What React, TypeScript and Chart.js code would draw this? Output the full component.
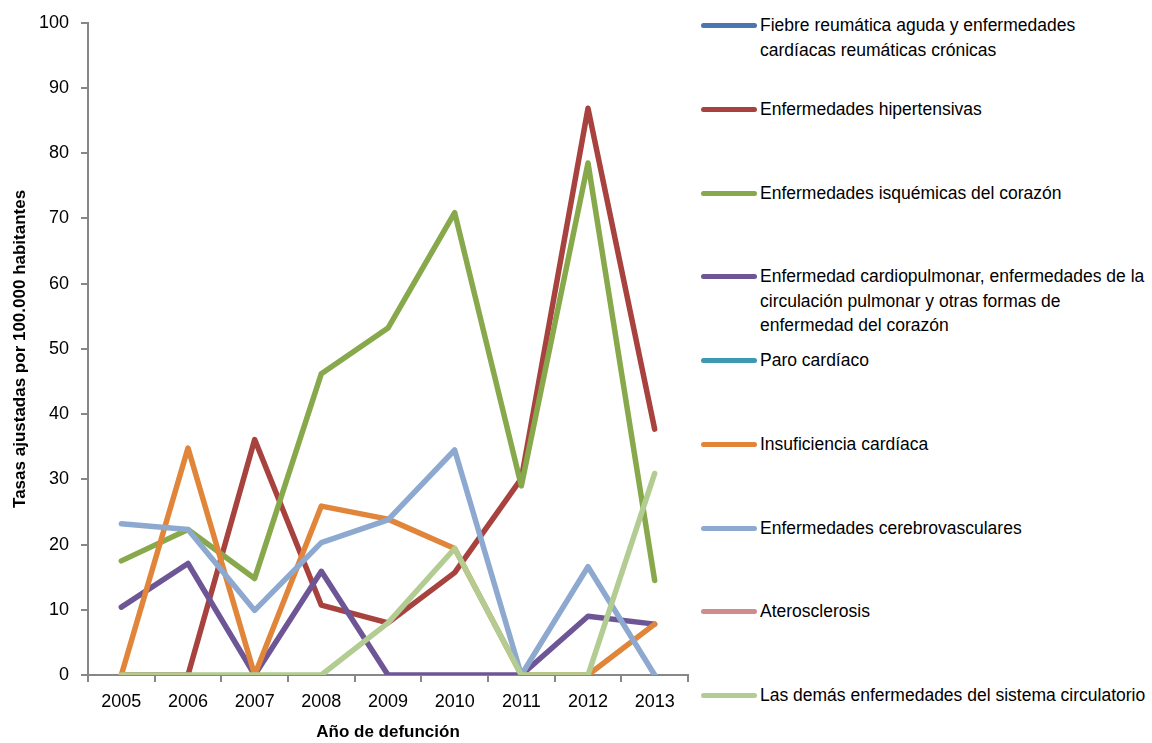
import React, { useEffect, useRef } from "react";
import { Chart, registerables } from "chart.js";

Chart.register(...registerables);

const years = ["2005", "2006", "2007", "2008", "2009", "2010", "2011", "2012", "2013"];

// Series with no visible values in the reference are left empty (null).
const fiebreReumatica = [null, null, null, null, null, null, null, null, null];
const hipertensivas = [0, 0, 36.1, 10.7, 8.0, 15.7, 30.1, 86.9, 37.7];
const isquemicas = [17.5, 22.3, 14.8, 46.2, 53.2, 70.9, 29.0, 78.5, 14.5];
const cardiopulmonar = [10.4, 17.1, 0, 15.9, 0, 0, 0, 9.0, 7.8];
const paroCardiaco = [null, null, null, null, null, null, null, null, null];
const insuficiencia = [0, 34.8, 0, 25.9, 23.9, 19.4, 0, 0, 7.8];
const cerebrovasculares = [23.2, 22.3, 9.9, 20.3, 23.8, 34.5, 0, 16.6, 0];
const aterosclerosis = [null, null, null, null, null, null, null, null, null];
const demas = [0, 0, 0, 0, 8.0, 19.4, 0, 0, 30.9];

const seriesNames = [
  "Fiebre reumática aguda y enfermedades cardíacas reumáticas crónicas",
  "Enfermedades hipertensivas",
  "Enfermedades isquémicas del corazón",
  "Enfermedad cardiopulmonar, enfermedades de la circulación pulmonar y otras formas de enfermedad del corazón",
  "Paro cardíaco",
  "Insuficiencia cardíaca",
  "Enfermedades cerebrovasculares",
  "Aterosclerosis",
  "Las demás enfermedades del sistema circulatorio",
];
const legendLines = [
  ["Fiebre reumática aguda y enfermedades", "cardíacas reumáticas crónicas"],
  ["Enfermedades hipertensivas"],
  ["Enfermedades isquémicas del corazón"],
  [
    "Enfermedad cardiopulmonar, enfermedades de la",
    "circulación pulmonar y otras formas de",
    "enfermedad del corazón",
  ],
  ["Paro cardíaco"],
  ["Insuficiencia cardíaca"],
  ["Enfermedades cerebrovasculares"],
  ["Aterosclerosis"],
  ["Las demás enfermedades del sistema circulatorio"],
];
const seriesValues = [
  fiebreReumatica,
  hipertensivas,
  isquemicas,
  cardiopulmonar,
  paroCardiaco,
  insuficiencia,
  cerebrovasculares,
  aterosclerosis,
  demas,
];
const seriesColors = [
  "#4A77B0",
  "#A8423F",
  "#87A84B",
  "#6E5696",
  "#3F98B1",
  "#E0853A",
  "#8EA9D0",
  "#D08C8C",
  "#B3CC92",
];

const yTitle = "Tasas ajustadas por 100.000 habitantes";
const xTitle = "Año de defunción";

const FONT = "'Liberation Sans', Arial, sans-serif";

export default function App() {
  const canvasRef = useRef<HTMLCanvasElement | null>(null);

  useEffect(() => {
    if (!canvasRef.current) return;
    const n = seriesNames.length;
    const chart = new Chart(canvasRef.current, {
      type: "line",
      data: {
        labels: years,
        datasets: seriesNames.map((name, i) => ({
          label: name,
          data: seriesValues[i],
          borderColor: seriesColors[i],
          backgroundColor: seriesColors[i],
          borderWidth: 5.5,
          pointRadius: 0,
          tension: 0,
          order: n - i,
          borderCapStyle: "round" as const,
          borderJoinStyle: "round" as const,
          fill: false,
        })),
      },
      options: {
        animation: false,
        responsive: false,
        maintainAspectRatio: false,
        layout: { padding: { top: 19, right: 12, left: 6, bottom: 0 } },
        plugins: {
          legend: { display: false },
          tooltip: { enabled: false },
        },
        scales: {
          x: {
            type: "category",
            offset: true,
            grid: {
              offset: true,
              drawOnChartArea: false,
              drawTicks: true,
              tickLength: 7,
              color: "#878787",
              lineWidth: 2,
            },
            border: { color: "#878787", width: 2 },
            ticks: {
              color: "#000",
              font: { family: FONT, size: 18 },
              padding: 9,
              maxRotation: 0,
            },
            title: {
              display: true,
              text: xTitle,
              color: "#000",
              font: { family: FONT, size: 17, weight: "bold" },
              padding: { top: 4, bottom: 0 },
            },
            afterFit: (scale: any) => {
              scale.height = 68;
            },
          },
          y: {
            min: 0,
            max: 100,
            ticks: {
              stepSize: 10,
              color: "#000",
              font: { family: FONT, size: 18 },
              padding: 12,
            },
            grid: {
              drawOnChartArea: false,
              drawTicks: true,
              tickLength: 7,
              color: "#878787",
              lineWidth: 2,
            },
            border: { color: "#878787", width: 2 },
            title: {
              display: true,
              text: yTitle,
              color: "#000",
              font: { family: FONT, size: 17, weight: "bold" },
              padding: { top: 4, bottom: 4 },
            },
            afterFit: (scale: any) => {
              scale.width = 82;
            },
          },
        },
      },
    });
    return () => chart.destroy();
  }, []);

  return (
    <div
      style={{
        position: "absolute",
        left: 0,
        top: 0,
        width: 1152,
        height: 743,
        background: "#fff",
        fontFamily: FONT,
      }}
    >
      <canvas
        ref={canvasRef}
        width={700}
        height={743}
        style={{ position: "absolute", left: 0, top: 0, width: 700, height: 743 }}
      />
      {seriesNames.map((name, i) => (
        <div
          key={name}
          style={{
            position: "absolute",
            left: 701,
            top: 25 + i * 83.75 - 12,
            width: 451,
            display: "flex",
            alignItems: "flex-start",
          }}
        >
          <div
            style={{
              width: 56,
              height: 5,
              borderRadius: 3,
              background: seriesColors[i],
              marginTop: 10,
              flex: "0 0 auto",
            }}
          />
          <div
            style={{
              marginLeft: 3,
              fontSize: 17.5,
              lineHeight: "24.5px",
              color: "#000",
              whiteSpace: "nowrap",
            }}
          >
            {legendLines[i].map((line) => (
              <div key={line}>{line}</div>
            ))}
          </div>
        </div>
      ))}
    </div>
  );
}
